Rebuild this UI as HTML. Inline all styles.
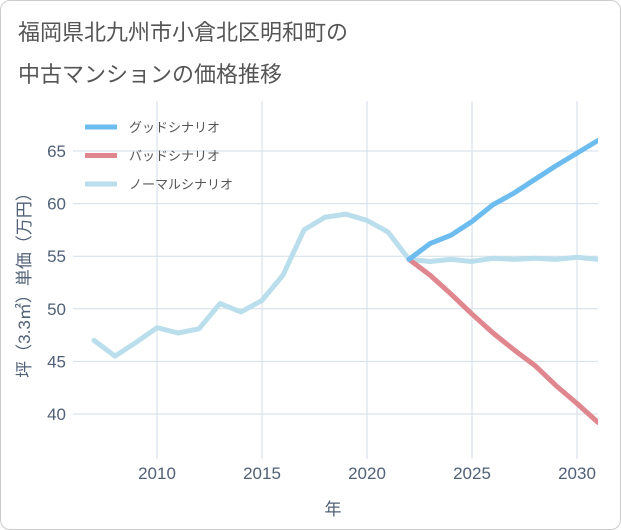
<!DOCTYPE html>
<html><head><meta charset="utf-8"><style>
body{margin:0;background:#fff;font-family:"Liberation Sans","Noto Sans CJK JP",sans-serif;}
#card{position:absolute;left:0;top:0;width:619px;height:528px;border:1px solid #ccc;border-radius:10px;background:#fff;overflow:hidden}
.t{position:absolute;left:17px;font-size:22px;color:#555;}
</style></head><body>
<div id="card">
<div class="t" style="top:14px">福岡県北九州市小倉北区明和町の</div>
<div class="t" style="top:56px">中古マンションの価格推移</div>
<svg id="svg" width="621" height="530" style="position:absolute;left:0;top:0"></svg>
</div>
<script>
const years=[2007,2008,2009,2010,2011,2012,2013,2014,2015,2016,2017,2018,2019,2020,2021,2022,2023,2024,2025,2026,2027,2028,2029,2030,2031];
const normalVals=[47.0,45.5,46.8,48.2,47.7,48.1,50.5,49.7,50.8,53.2,57.5,58.7,59.0,58.4,57.3,54.7,54.5,54.7,54.5,54.8,54.7,54.8,54.7,54.9,54.7];
const futureYears=[2022,2023,2024,2025,2026,2027,2028,2029,2030,2031];
const goodVals=[54.7,56.2,57.0,58.3,59.9,61.0,62.3,63.6,64.8,66.0];
const badVals=[54.7,53.2,51.4,49.5,47.7,46.1,44.6,42.7,41.0,39.2];
const xTicks=[2010,2015,2020,2025,2030];
const yTicks=[40,45,50,55,60,65];
const legendLabels=["グッドシナリオ","バッドシナリオ","ノーマルシナリオ"];
const colors=["#6dbcf0","#e0868f","#badeeb"];
const L=72,R=597,T=100,B=458;
const x=v=>156+(v-2010)*21;
const y=v=>413-(v-40)*10.52;
const svg=document.getElementById('svg');
const NS='http://www.w3.org/2000/svg';
function mk(tag,attrs,parent){const e=document.createElementNS(NS,tag);for(const k in attrs)e.setAttribute(k,attrs[k]);(parent||svg).appendChild(e);return e;}
xTicks.forEach(t=>{
 const l=mk('line',{x1:x(t),x2:x(t),y1:T,y2:B,stroke:'#d3dee8','stroke-width':1});
 
 
 const tx=mk('text',{x:x(t),y:478,'text-anchor':'middle','font-size':17,fill:'#506177'});tx.textContent=t;
 
 
});
yTicks.forEach(t=>{
 const l=mk('line',{x1:L,x2:R,y1:y(t),y2:y(t),stroke:'#d3dee8','stroke-width':1});
 
 
 const tx=mk('text',{x:65,y:y(t)+6,'text-anchor':'end','font-size':17,fill:'#506177'});tx.textContent=t;
 
 
});
function line(xs,vs,c,name){
 const p=mk('polyline',{points:xs.map((v,i)=>x(v)+','+y(vs[i])).join(' '),fill:'none',stroke:c,'stroke-width':5,'stroke-linejoin':'round','stroke-linecap':'round'});
 
 
}
const clip=mk('clipPath',{id:'c'});mk('rect',{x:L,y:T,width:R-L,height:B-T},clip);
line(years,normalVals,colors[2],'normal-scenario-line');
line(futureYears,badVals,colors[1],'bad-scenario-line');
line(futureYears,goodVals,colors[0],'good-scenario-line');
svg.querySelectorAll('polyline').forEach(p=>p.setAttribute('clip-path','url(#c)'));
legendLabels.forEach((s,i)=>{
 const yy=126+i*28.5;
 const l=mk('line',{x1:84,x2:116,y1:yy,y2:yy,stroke:colors[i],'stroke-width':5});
 
 
 const tx=mk('text',{x:128,y:yy+5,'font-size':13,fill:'#555'});tx.textContent=s;
 
 
});
const xt=mk('text',{x:332,y:514,'text-anchor':'middle','font-size':17,fill:'#506177'});xt.textContent='年';


const yt=mk('text',{x:0,y:0,'text-anchor':'middle','font-size':17,fill:'#506177',transform:'translate(29,280) rotate(-90)'});yt.textContent='坪（3.3㎡）単価（万円）';


</script>
</body></html>
